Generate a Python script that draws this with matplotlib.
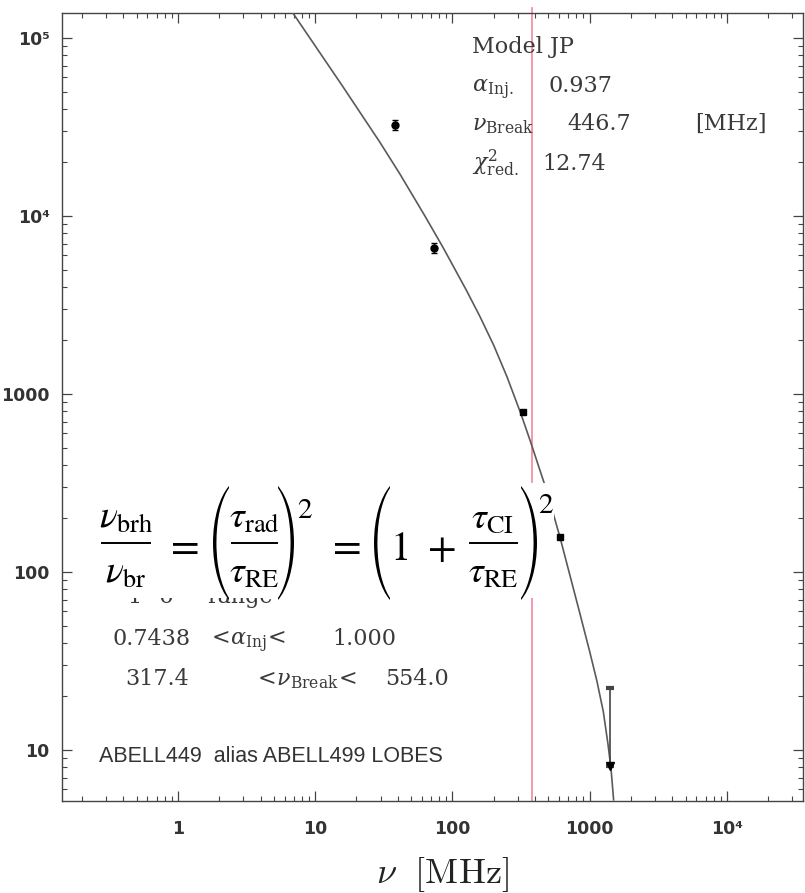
"""
JP 模型拟合谱 (ABELL449 lobes) 重绘
"""

import matplotlib
matplotlib.use("Agg")
import matplotlib.pyplot as plt
from matplotlib.patches import Rectangle, PathPatch
from matplotlib.lines import Line2D
from matplotlib.textpath import TextPath
from matplotlib.font_manager import FontProperties
from matplotlib.transforms import Affine2D

W, H = 805, 893  # figure size in px

freq_circ = [38, 74]
flux_circ = [32400, 6610]
err_circ = [2100, 430]

freq_sq = [325, 610]
flux_sq = [793, 157]

freq_lim = [1400]
flux_lim_lo = [8.1]
flux_lim_hi = [22.3]

# fitted JP model curve
model_freq = [6.89, 15.8, 29.6, 41.5, 63.1, 85.3, 126, 159, 200, 250, 316, 368,
              490, 608, 851, 1000, 1132, 1259, 1361, 1432, 1496]
model_flux = [138000, 53800, 26000, 17200, 10000, 6680, 3850, 2720, 1880, 1250, 773, 550,
              282, 157, 58.2, 35.9, 24.3, 16.4, 10.8, 7.9, 5.25]

nu_mark = 380  # pink vertical line [MHz]

x_ticks = [1, 10, 100, 1000, 10000]
x_ticklabels = ["1", "10", "100", "1000", "10⁴"]
y_ticks = [10, 100, 1000, 10000, 100000]
y_ticklabels = ["10", "100", "1000", "10⁴", "10⁵"]

fit_rows = [
    ("Model JP", None, None),
    (r"$\alpha_{\rm Inj.}$", "0.937", None),
    (r"$\nu_{\rm Break}$", "446.7", "[MHz]"),
    (r"$\chi^2_{\rm red.}$", "12.74", None),
]


def fx(px):
    return px / W


def fy(py):
    return 1 - py / H


fig = plt.figure(figsize=(W / 100, H / 100), dpi=100)
ax = fig.add_axes([fx(62), fy(801), fx(803) - fx(62), fy(13) - fy(801)])
ax.set_xscale("log")
ax.set_yscale("log")
ax.set_xlim(0.143, 35900)
ax.set_ylim(5.17, 138200)

grey = "#3a3a3a"

ax.plot(model_freq, model_flux, color="#5a5a5a", lw=1.2, zorder=3)
ax.errorbar(freq_circ, flux_circ, yerr=err_circ, fmt="o", ms=5, color="black",
            capsize=2.5, elinewidth=1, zorder=4)
ax.plot(freq_sq, flux_sq, "s", ms=4.5, color="black", zorder=4)
ax.errorbar(freq_lim, flux_lim_lo,
            yerr=[[0], [flux_lim_hi[0] - flux_lim_lo[0]]],
            fmt="v", ms=5.5, color="black", ecolor="#444444", capsize=3,
            capthick=3, elinewidth=1.2, zorder=4)

ax.axvline(nu_mark, ymin=0, ymax=1.006, color="#f4869f", lw=1.2, clip_on=False, zorder=2)

for s in ax.spines.values():
    s.set_color("#444444")
    s.set_linewidth(1.0)

ax.set_xticks(x_ticks)
ax.set_xticklabels(x_ticklabels)
ax.set_yticks(y_ticks)
ax.set_yticklabels(y_ticklabels)
ax.tick_params(which="both", direction="in", top=True, right=True, colors="#444444")
ax.tick_params(which="major", length=7, width=0.9)
ax.tick_params(which="minor", length=3.5, width=0.8)
ax.tick_params(axis="x", which="major", pad=14)
ax.tick_params(axis="y", which="major", pad=9)
for lab in ax.get_xticklabels() + ax.get_yticklabels():
    lab.set_fontfamily("DejaVu Sans")
    lab.set_fontweight("bold")
    lab.set_fontsize(12.5)
    lab.set_color("#333333")

fig.text(fx(442), fy(875), r"$\nu\ \ [\mathrm{MHz}]$", ha="center", va="center",
         fontsize=26, math_fontfamily="cm", color="#222222")

# fit parameters (top right)
tkw = dict(fontfamily="DejaVu Serif", math_fontfamily="dejavuserif", fontsize=16,
           color=grey, va="baseline", ha="left")
baselines = [53, 92, 130, 170]
val_x = [None, 548, 567, 542]
for (name, val, unit), yb, vx in zip(fit_rows, baselines, val_x):
    fig.text(fx(472), fy(yb), name, **tkw)
    if val:
        fig.text(fx(vx), fy(yb), val, **tkw)
    if unit:
        fig.text(fx(695), fy(yb), unit, **tkw)

# 1-sigma range block (bottom left), its top half hidden under the equation
fig.text(fx(127), fy(603), "1−σ", **tkw)
fig.text(fx(207), fy(603), "range", **tkw)
fig.text(fx(112), fy(645), "0.7438", **tkw)
fig.text(fx(207), fy(645), r"$<\!\alpha_{\rm Inj}\!<$", **tkw)
fig.text(fx(332), fy(645), "1.000", **tkw)
fig.text(fx(125), fy(685), "317.4", **tkw)
fig.text(fx(253), fy(685), r"$<\!\nu_{\rm Break}\!<$", **tkw)
fig.text(fx(385), fy(685), "554.0", **tkw)

fig.text(fx(99), fy(762), "ABELL449  alias ABELL499 LOBES", fontfamily="Liberation Sans",
         fontsize=15.5, color="#333333", va="baseline", ha="left")

# pasted equation on a white patch
fig.add_artist(Rectangle((fx(90), fy(598)), fx(554) - fx(90), fy(483) - fy(598),
                         transform=fig.transFigure, facecolor="white",
                         edgecolor="none", zorder=10))

ekw = dict(math_fontfamily="stix", color="black", zorder=11)


def frac(xc, x0, x1, num, den):
    fig.text(fx(xc), fy(528), num, ha="center", va="baseline", fontsize=27, **ekw)
    fig.text(fx(xc), fy(583), den, ha="center", va="baseline", fontsize=27, **ekw)
    fig.add_artist(Line2D([fx(x0), fx(x1)], [fy(543), fy(543)], transform=fig.transFigure,
                          color="black", lw=1.4, zorder=11))


def paren(ch, x0, x1, y0, y1):
    tp = TextPath((0, 0), ch, size=100, prop=FontProperties(family="STIXSizeFourSym"))
    bb = tp.get_extents()
    tr = (Affine2D().translate(-bb.x0, -bb.y0)
          .scale((x1 - x0) / bb.width, (y1 - y0) / bb.height)
          .translate(x0, H - y1)
          .scale(1 / W, 1 / H))
    fig.add_artist(PathPatch(tr.transform_path(tp), transform=fig.transFigure,
                             facecolor="black", edgecolor="none", zorder=11))


frac(126, 102, 150, r"$\nu_{\rm brh}$", r"$\nu_{\rm br}$")
fig.text(fx(181), fy(545), "$=$", ha="center", va="center", fontsize=30, **ekw)
paren("(", 213, 229, 486, 600)
frac(254, 232, 277, r"$\tau_{\rm rad}$", r"$\tau_{\rm RE}$")
paren(")", 278, 294, 486, 600)
fig.text(fx(304), fy(518), "2", ha="center", va="baseline", fontsize=21,
         fontfamily="STIXGeneral", color="black", zorder=11)
fig.text(fx(343), fy(545), "$=$", ha="center", va="center", fontsize=30, **ekw)
paren("(", 374, 390, 486, 600)
fig.text(fx(401), fy(560), "1", ha="center", va="baseline", fontsize=29,
         fontfamily="STIXGeneral", color="black", zorder=11)
fig.text(fx(441), fy(548), "$+$", ha="center", va="center", fontsize=30, **ekw)
frac(493, 470, 517, r"$\tau_{\rm CI}$", r"$\tau_{\rm RE}$")
paren(")", 521, 537, 486, 600)
fig.text(fx(545), fy(513), "2", ha="center", va="baseline", fontsize=21,
         fontfamily="STIXGeneral", color="black", zorder=11)

plt.savefig("out.png", dpi=100)
plt.close()
